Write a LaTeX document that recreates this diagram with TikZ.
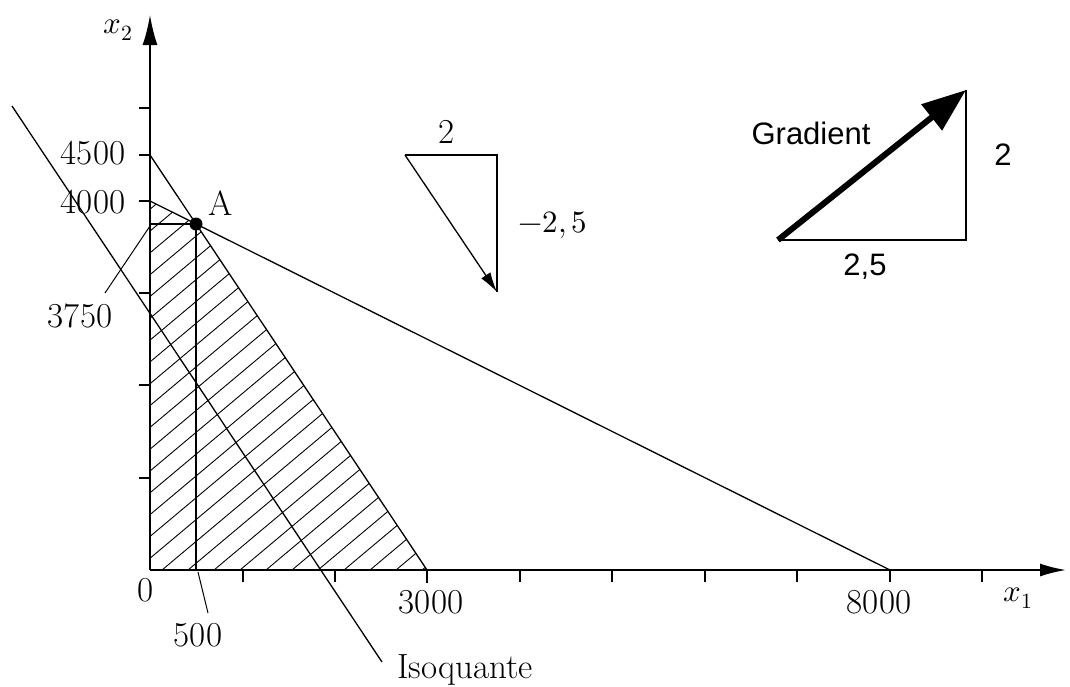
\documentclass[tikz,border=0pt]{standalone}
\usepackage{fontspec}
\usepackage{unicode-math}
\setmathfont{Latin Modern Math}
\newfontfamily\arialf{Liberation Sans}
\usetikzlibrary{arrows.meta}
\begin{document}
\begin{tikzpicture}[x=1pt,y=-1pt,
  thinl/.style={line width=1.3pt},
  axisl/.style={line width=1.8pt},
  tickl/.style={line width=1.5pt},
  hatchl/.style={line width=0.9pt},
  leadl/.style={line width=1pt},
  lab/.style={inner sep=0pt, font=\fontsize{35}{40}\selectfont},
  mlab/.style={inner sep=0pt, font=\fontsize{31}{36}\selectfont},
  slab/.style={inner sep=0pt, font=\arialf\fontsize{31}{36}\selectfont},
]
\useasboundingbox (0,0) rectangle (1070,686);
% key points
\coordinate (O) at (150,570);
\coordinate (Ytip) at (150,15);
\coordinate (Xtip) at (1066,570);
\coordinate (P4500) at (150,155);
\coordinate (P4000) at (150,201);
\coordinate (P3000) at (427,570);
\coordinate (P8000) at (890,570);
\coordinate (A) at (196,224);
\coordinate (Ay) at (150,224);
\coordinate (Ax) at (196,570);
\coordinate (I1) at (12,106);
\coordinate (I2) at (382,662);
\coordinate (L1a) at (150,226);
\coordinate (L1b) at (105,293);
\coordinate (L2a) at (198,572);
\coordinate (L2b) at (208,613);
% hatched feasible region
\begin{scope}
  \clip (O) -- (P4000) -- (A) -- (P3000) -- cycle;
  \foreach \k in {-18,...,11}
    \draw[hatchl] ({162+26*\k},570) -- ++(500,-419.5);
\end{scope}
% axes
\draw[axisl,-{Latex[length=30pt,width=15pt]}] (O) -- (Ytip);
\draw[axisl,-{Latex[length=26pt,width=13pt]}] (O) -- (Xtip);
\foreach \y in {478,385,293,201,155,108}
  \draw[tickl] (139,\y) -- (150,\y);
\foreach \x in {243,335,520,612,705,797,890,982}
  \draw[tickl] (\x,570) -- (\x,582);
\draw[line width=2.6pt] (427,570) -- (427,583);
% constraints
\draw[thinl] (P4500) -- (P3000);
\draw[thinl] (P4000) -- (P8000);
\draw[thinl] (Ay) -- (A) -- (Ax);
\fill (A) circle (6.5);
% isoquant
\draw[thinl] (I1) -- (I2);
% leaders
\draw[leadl] (L1a) -- (L1b);
\draw[leadl] (L2a) -- (L2b);
% labels
\node[mlab] (lx2) at (118,30) {$x_2$};
\node[mlab] (lx1) at (1018,598) {$x_1$};
\node[lab] (l4500) at (93,153) {4500};
\node[lab] (l4000) at (93,202) {4000};
\node[lab] (l3750) at (80,316) {3750};
\node[lab] (l0) at (146,590) {0};
\node[lab] (l500) at (198,635) {500};
\node[lab] (l3000) at (431,602) {3000};
\node[lab] (l8000) at (879,602) {8000};
\node[lab] (lA) at (221,203) {A};
\node[lab,anchor=base west] (liso) at (397,678) {Isoquante};
% direction triangle
\coordinate (T1) at (405,155);
\coordinate (T2) at (497,155);
\coordinate (T3) at (497,292);
\draw[thinl] (T1) -- (T2) -- (T3);
\draw[thinl,-{Latex[length=20pt,width=11pt]}] (T1) -- (T3);
\node[lab] (lt2) at (447,132) {2};
\node[mlab] (lt25) at (553,225) {$-2,5$};
% gradient triangle
\coordinate (G1) at (778,240);
\coordinate (G2) at (966,240);
\coordinate (G3) at (966,90);
\draw[thinl] (G1) -- (G2) -- (G3);
\draw[line width=6pt,-{Triangle[length=44pt,width=32pt]}] (G1) -- (G3);
\node[slab] (lgrad) at (811,133) {Gradient};
\node[slab] (lg2) at (1003,155) {2};
\node[slab] (lg25) at (865,267) {2,5};
\end{tikzpicture}
\end{document}
